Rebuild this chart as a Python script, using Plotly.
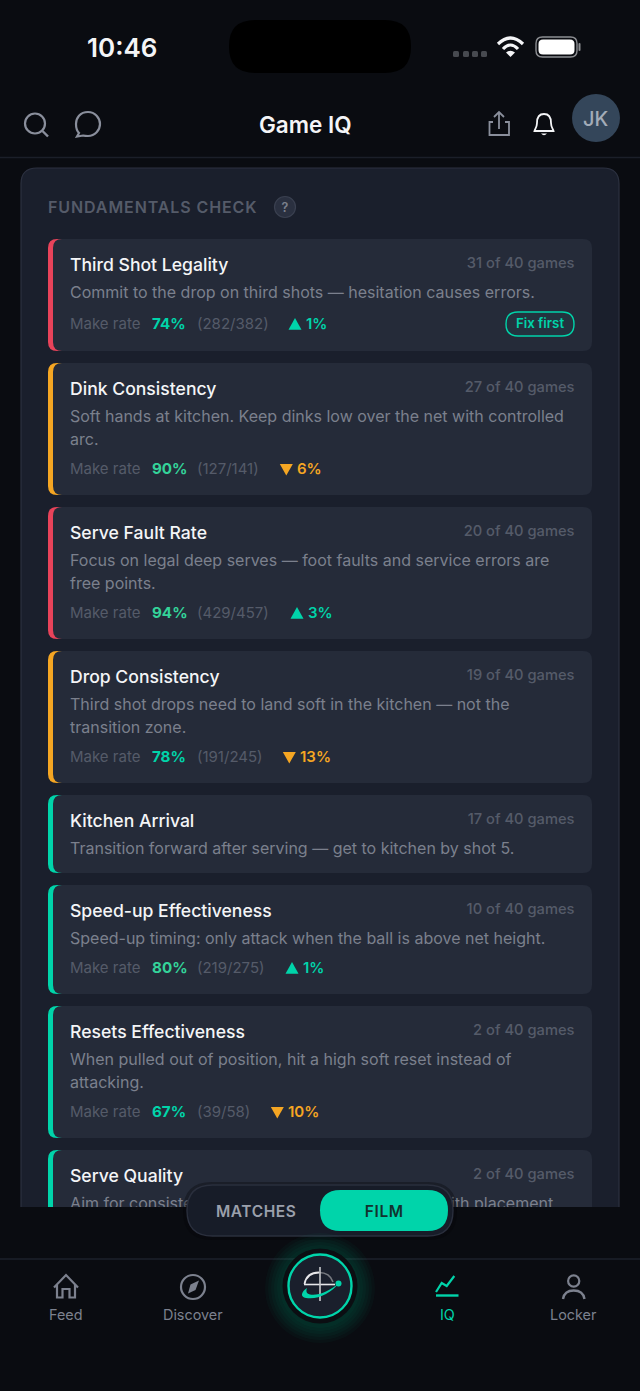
import plotly.graph_objects as go

FONT = "Inter"

# ---- data ----
check_titles = ["Third Shot Legality", "Dink Consistency", "Serve Fault Rate", "Drop Consistency",
                "Kitchen Arrival", "Speed-up Effectiveness", "Resets Effectiveness", "Serve Quality"]
check_notes = [
    ["Commit to the drop on third shots — hesitation causes errors."],
    ["Soft hands at kitchen. Keep dinks low over the net with controlled", "arc."],
    ["Focus on legal deep serves — foot faults and service errors are", "free points."],
    ["Third shot drops need to land soft in the kitchen — not the", "transition zone."],
    ["Transition forward after serving — get to kitchen by shot 5."],
    ["Speed-up timing: only attack when the ball is above net height."],
    ["When pulled out of position, hit a high soft reset instead of", "attacking."],
    ["Aim for consistent, medium-to-deep first serves with placement"],
]
games_played = [31, 27, 20, 19, 17, 10, 2, 2]
games_total = 40
make_rates = [74, 90, 94, 78, None, 80, 67, None]
made_counts = ["(282/382)", "(127/141)", "(429/457)", "(191/245)", None, "(219/275)", "(39/58)", None]
delta_values = [1, 6, 3, 13, None, 1, 10, None]
delta_up = [True, False, True, False, None, True, False, None]
severity = ["high", "mid", "high", "mid", "low", "low", "low", "low"]
nav_labels = ["Feed", "Discover", "IQ", "Locker"]

# ---- colours ----
BG = "#0a0c11"
PANEL = "#1a1f2c"
PANEL_EDGE = "#2c3140"
CARD = "#252b39"
TEAL = "#00d4aa"
GREEN = "#34d399"
AMBER = "#f5a623"
RED = "#e8435a"
WHITE = "#f4f5f7"
NOTE = "#7b808d"
MUTED = "#555b69"
NAV = "#7c818e"
stripe = {"high": RED, "mid": AMBER, "low": TEAL}

# where the stat row's delta sits, depends on how wide the counts are
delta_x = [295, 286, 297, 289, None, 292, 277, None]

# text traces sit a bit high for their y
TEXT_DY = 1.5


def rrect(x0, y0, x1, y1, r):
    return (f"M{x0 + r} {y0} L{x1 - r} {y0} Q{x1} {y0} {x1} {y0 + r} L{x1} {y1 - r} Q{x1} {y1} {x1 - r} {y1} "
            f"L{x0 + r} {y1} Q{x0} {y1} {x0} {y1 - r} L{x0} {y0 + r} Q{x0} {y0} {x0 + r} {y0} Z")


def box(x0, y0, x1, y1, r, fill, line=None, width=1, layer="below"):
    return dict(type="path", path=rrect(x0, y0, x1, y1, r), fillcolor=fill, layer=layer,
                line=dict(color=line or "rgba(0,0,0,0)", width=width if line else 0))


def circle(cx, cy, r, fill="rgba(0,0,0,0)", line=None, width=1, layer="above"):
    return dict(type="circle", x0=cx - r, x1=cx + r, y0=cy - r, y1=cy + r, fillcolor=fill, layer=layer,
                line=dict(color=line or "rgba(0,0,0,0)", width=width if line else 0))


def stroke(path, color, width=2, fill="rgba(0,0,0,0)", layer="above"):
    return dict(type="path", path=path, fillcolor=fill, layer=layer, line=dict(color=color, width=width))


def blob(path, color, layer="above"):
    return dict(type="path", path=path, fillcolor=color, layer=layer, line=dict(width=0, color="rgba(0,0,0,0)"))


shapes = []
fig = go.Figure()


def text_trace(xs, ys, labels, size, color, weight=400, pos="middle right"):
    fig.add_trace(go.Scatter(x=xs, y=[y + TEXT_DY for y in ys], text=labels, mode="text", textposition=pos,
                             hoverinfo="skip",
                             textfont=dict(family=FONT, size=size, color=color, weight=weight)))


def label(x, y, s, size, color, weight=400, anchor="center"):
    return dict(x=x, y=y, text=s, showarrow=False, xanchor=anchor, yanchor="middle",
                font=dict(family=FONT, size=size, color=color, weight=weight))


# ---- scrolling panel and its cards ----
shapes.append(box(21, 168, 619, 1300, 16, PANEL, PANEL_EDGE, 1.2))

title_x, title_y, note_x, note_y, note_txt = [], [], [], [], []
game_y, game_txt = [], []
stat_y = []
top = 239
for i, title in enumerate(check_titles):
    lines = check_notes[i]
    has_stat = make_rates[i] is not None
    height = 78 + 23 * (len(lines) - 1)
    if has_stat:
        height += 31
    if i == 0:
        height += 3  # room for the badge
    if i == 7:
        height = 130
    shapes.append(box(48, top, 70, top + height, 9, stripe[severity[i]]))
    shapes.append(box(53, top, 592, top + height, 9, CARD))
    title_x.append(70)
    title_y.append(top + 26)
    game_y.append(top + 24)
    game_txt.append(f"{games_played[i]} of {games_total} games")
    for j, line in enumerate(lines):
        note_x.append(70)
        note_y.append(top + 53 + 23 * j)
        note_txt.append(line)
    if has_stat:
        stat_y.append(top + height - 26 - (1 if i == 0 else 0))
    else:
        stat_y.append(None)
    top += height + 12

text_trace(title_x, title_y, check_titles, 17.6, WHITE, 500)
text_trace(note_x, note_y, note_txt, 16, NOTE)
text_trace([574.5] * len(game_y), game_y, game_txt, 14.7, MUTED, 500, "middle left")

rows = [i for i in range(len(check_titles)) if make_rates[i] is not None]
rate_col = [GREEN if make_rates[i] >= 80 else TEAL for i in rows]
text_trace([70] * len(rows), [stat_y[i] for i in rows], ["Make rate"] * len(rows), 15, MUTED)
text_trace([152] * len(rows), [stat_y[i] for i in rows], [f"{make_rates[i]}%" for i in rows], 15.2, rate_col, 700)
text_trace([197] * len(rows), [stat_y[i] for i in rows], [made_counts[i] for i in rows], 15, MUTED)

for i in rows:
    x, y = delta_x[i], stat_y[i]
    if delta_up[i]:
        shapes.append(blob(f"M{x - 6.5} {y + 5.7} L{x + 6.5} {y + 5.7} L{x} {y - 5.9} Z", TEAL, "below"))
    else:
        shapes.append(blob(f"M{x - 6.2} {y - 5} L{x + 6.8} {y - 5} L{x + 0.3} {y + 6.6} Z", AMBER, "below"))
for up, col in [(True, TEAL), (False, AMBER)]:
    pick = [i for i in rows if delta_up[i] == up]
    text_trace([delta_x[i] + 11 for i in pick], [stat_y[i] for i in pick], [f"{delta_values[i]}%" for i in pick],
               15, col, 600)

# badge
shapes.append(box(506, 312, 574, 336, 12, "rgba(0,212,170,0.05)", TEAL, 1.4))
text_trace([540], [323], ["Fix first"], 13.3, TEAL, 600, "middle center")

# panel heading
text_trace([48], [207], ["FUNDAMENTALS CHECK"], 16, MUTED, 600)
shapes.append(circle(285, 207, 10.5, "#2a3040", "#3a4050", 1.2, "below"))
text_trace([285], [207], ["?"], 12.5, "#7b808d", 600, "middle center")

# ---- header and status bar cover the panel's top ----
shapes.append(dict(type="rect", x0=0, x1=640, y0=0, y1=157, fillcolor=BG, layer="below", line=dict(width=0)))
shapes.append(dict(type="line", x0=0, x1=640, y0=157.5, y1=157.5, line=dict(color="#1b1f29", width=1.5), layer="below"))
shapes.append(box(229, 20, 411, 73, 26, "#000000", layer="above"))
for x in [456, 466, 475, 484]:
    shapes.append(box(x - 3, 51, x + 3, 57, 1.5, "#474a50", layer="above"))
# wifi
shapes.append(stroke("M498 44 Q510.5 32 523 44", WHITE, 3.2))
shapes.append(stroke("M503 49 Q510.5 41 518 49", WHITE, 3.2))
shapes.append(blob("M506 52.5 Q510.5 49 515 52.5 L510.5 57 Z", WHITE))
# battery
shapes.append(box(536, 37, 577, 57, 6.5, "rgba(0,0,0,0)", "#8c8e92", 1.4, "above"))
shapes.append(box(538.5, 39.5, 574.5, 54.5, 4.5, "#ffffff", layer="above"))
shapes.append(box(578.5, 43, 580.5, 51, 1, "#8c8e92", layer="above"))
# search + chat
ICON = "#8a8f9c"
shapes.append(circle(35, 123.5, 10, line=ICON, width=2.2))
shapes.append(stroke("M42.5 131 L48 136.5", ICON, 2.4))
shapes.append(stroke("M88 112 C 80 112 76 118 76 124 C 76 128 77 131 79 133 L77 136.5 L83 135.5 C 85 136 86 136 88 136 "
                     "C 95 136 100 130 100 124 C 100 118 95 112 88 112 Z", ICON, 2.2))
# share + bell
shapes.append(stroke("M493 122 L489.5 122 L489.5 135 L509 135 L509 122 L505 122", ICON, 1.8))
shapes.append(stroke("M499 129 L499 112 M494 117 L499 112 L504 117", ICON, 1.8))
shapes.append(stroke("M544 114 C 538 114 537 119 537 123 C 537 127 535 129 534.5 131 L553.5 131 C 553 129 551 127 551 123 "
                     "C 551 119 550 114 544 114 Z", WHITE, 1.8))
shapes.append(blob("M541 133.5 L547 133.5 Q544 137 541 133.5 Z", WHITE))
shapes.append(circle(596, 118, 24, "#34465a"))

# ---- bottom area, covers the clipped cards ----
shapes.append(dict(type="rect", x0=0, x1=640, y0=1207, y1=1391, fillcolor=BG, layer="above", line=dict(width=0)))
shapes.append(dict(type="line", x0=0, x1=640, y0=1259, y1=1259, line=dict(color="#1d202b", width=1.5), layer="above"))
# pill
shapes.append(box(183, 1182, 457, 1240, 29, "rgba(5,6,9,0.35)", layer="above"))
shapes.append(box(187, 1185, 453, 1236, 25.5, "#171c28", "#2a2f3d", 1.4, "above"))
shapes.append(box(320, 1190, 448, 1231, 20.5, TEAL, layer="above"))

# glow + record button
for r in [55, 52, 49, 46, 43, 40]:
    shapes.append(circle(320, 1288, r, "rgba(0,212,170,0.032)"))
shapes.append(circle(320, 1286, 37.5, "#0b0e12"))
shapes.append(circle(320, 1286, 31.5, "#1a1f2c", TEAL, 2.4))
shapes.append(stroke("M304.5 1284 C 306 1276 312 1272.5 319 1272.5", "#e8e8ea", 1.8))
shapes.append(stroke("M319 1272.5 C 326 1272.5 331 1276 333 1282", "#777a80", 1.6))
shapes.append(stroke("M304 1284.5 L335 1284.5", "#e6e7ea", 1.6))
shapes.append(stroke("M320 1267 L320 1301", "#c9cbcf", 1.6))
shapes.append(blob("M339 1283 C 330 1291 318 1296 310 1294.5 C 306 1293.5 306 1291 307 1288 "
                   "C 301 1292 300 1297 306 1298 C 318 1300 331 1293 339 1283 Z", TEAL))
shapes.append(circle(338.5, 1283.5, 3, TEAL))

# nav icons
shapes.append(stroke("M54 1287.5 L66 1275 L78 1287.5 M57 1285 L57 1297.5 L62.5 1297.5 L62.5 1289 L69.5 1289 L69.5 1297.5 "
                     "L75 1297.5 L75 1285", NAV, 2.2))
shapes.append(circle(193, 1287, 12, line=NAV, width=2.2))
shapes.append(blob("M199 1280.5 L195.5 1290 L188 1293.5 L190.5 1284.5 Z", NAV))
shapes.append(stroke("M436 1292 L441.7 1283 L446.7 1286 L454.3 1276", TEAL, 2.2))
shapes.append(stroke("M436 1295.5 L458.5 1295.5", TEAL, 2.4))
shapes.append(circle(573.7, 1281, 5.6, line=NAV, width=2.2))
shapes.append(stroke("M563 1299 C 564 1293 568 1290.5 573.7 1290.5 C 579 1290.5 583.5 1293 584.5 1299", NAV, 2.4))

nav_x = [66, 193, 447, 573]
nav_col = [NAV, NAV, TEAL, NAV]

annotations = [
    label(121.5, 47, "10:46", 26, WHITE, 600),
    label(305, 124, "Game IQ", 22.5, WHITE, 600),
    label(596, 119, "JK", 20, "#a3acb8", 500),
    label(256, 1211, "MATCHES", 15.5, "#9ba0ac", 600),
    label(384, 1211, "FILM", 15.5, "#12332f", 600),
]
for name, x, col in zip(nav_labels, nav_x, nav_col):
    annotations.append(label(x, 1314.5, name, 14.4, col))

fig.update_layout(
    width=640, height=1391, margin=dict(l=0, r=0, t=0, b=0), showlegend=False,
    paper_bgcolor=BG, plot_bgcolor=BG, shapes=shapes, annotations=annotations,
    xaxis=dict(range=[0, 640], visible=False, fixedrange=True),
    yaxis=dict(range=[1391, 0], visible=False, fixedrange=True),
)

# plotly has no letter spacing, the caps labels need it
post = """
document.body.style.margin='0';document.body.style.overflow='hidden';document.body.style.background='#0a0c11';
var spaced={'FUNDAMENTALS CHECK':'0.9px','MATCHES':'0.6px','FILM':'0.6px'};
document.querySelectorAll('svg text').forEach(function(t){
  var s=spaced[t.textContent]; if(s){t.style.letterSpacing=s;}
});
"""
fig.write_html("out.html", config={"displayModeBar": False}, post_script=post)
